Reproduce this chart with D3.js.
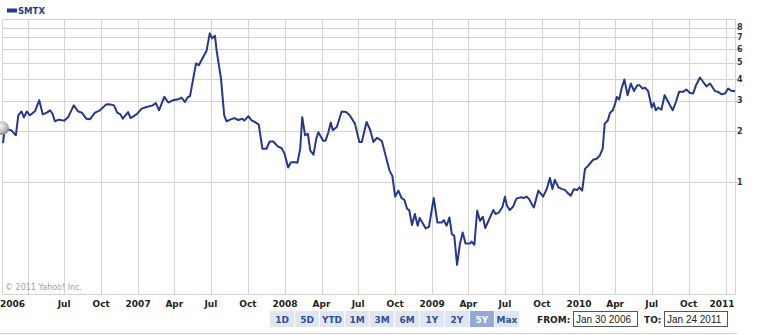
<!DOCTYPE html>
<html>
  <head>
    <title>SMTX</title>
    <script src="https://cdn.jsdelivr.net/npm/d3@7"></script>
    <style>
      body { margin: 0; background: #ffffff; }
      text { font-family: "DejaVu Sans", Verdana, sans-serif; }
    </style>
  </head>
  <body>
    <svg width="779" height="335" id="mainsvg"></svg>
    <script>
        // weekly-ish closes, one list per year
        const prices2006 = [
            ["2006-01-30",1.69],["2006-02-03",2.01],["2006-02-08",2.05],["2006-02-20",2.01],["2006-03-03",1.88],
            ["2006-03-09",2.46],["2006-03-17",2.59],["2006-03-23",2.39],["2006-03-30",2.59],["2006-04-07",2.46],
            ["2006-04-20",2.61],["2006-04-30",3.01],["2006-05-09",2.49],["2006-05-19",2.55],["2006-05-27",2.63],
            ["2006-06-02",2.52],["2006-06-08",2.27],["2006-06-18",2.32],["2006-07-01",2.29],["2006-07-11",2.40],
            ["2006-07-25",2.81],["2006-08-05",2.59],["2006-08-14",2.55],["2006-08-25",2.35],["2006-09-03",2.33],
            ["2006-09-16",2.55],["2006-09-28",2.63],["2006-10-13",2.84],["2006-10-23",2.85],["2006-11-02",2.81],
            ["2006-11-10",2.55],["2006-11-18",2.49],["2006-11-24",2.35],["2006-12-07",2.57],["2006-12-13",2.37],
            ["2006-12-28",2.49]
        ];
        const prices2007 = [
            ["2007-01-10",2.69],["2007-01-22",2.75],["2007-02-06",2.81],["2007-02-14",2.90],["2007-02-22",2.63],
            ["2007-03-07",3.15],["2007-03-17",2.92],["2007-03-28",3.01],["2007-04-11",3.05],["2007-04-19",3.12],
            ["2007-04-27",2.94],["2007-05-05",3.15],["2007-05-10",3.18],["2007-05-18",4.03],["2007-05-25",4.94],
            ["2007-06-01",4.82],["2007-06-12",5.40],["2007-06-20",5.83],["2007-06-28",7.40],["2007-07-04",6.92],
            ["2007-07-11",7.16],["2007-07-15",5.91],["2007-07-26",4.03],["2007-08-03",2.46],["2007-08-09",2.27],
            ["2007-08-18",2.32],["2007-08-28",2.37],["2007-09-07",2.31],["2007-09-17",2.35],["2007-09-22",2.29],
            ["2007-10-02",2.43],["2007-10-10",2.30],["2007-10-18",2.25],["2007-10-28",2.17],["2007-11-06",1.57],
            ["2007-11-16",1.57],["2007-11-24",1.73],["2007-12-03",1.73],["2007-12-14",1.62],["2007-12-24",1.58],
            ["2007-12-31",1.47]
        ];
        const prices2008 = [
            ["2008-01-09",1.22],["2008-01-16",1.31],["2008-01-26",1.31],["2008-02-01",1.30],["2008-02-08",1.57],
            ["2008-02-13",2.40],["2008-02-20",1.88],["2008-02-27",1.92],["2008-03-04",1.53],["2008-03-12",1.45],
            ["2008-03-19",1.80],["2008-03-24",1.96],["2008-04-05",1.75],["2008-04-11",1.75],["2008-04-18",1.96],
            ["2008-04-24",2.23],["2008-04-29",2.01],["2008-05-09",2.10],["2008-05-21",2.59],["2008-06-01",2.57],
            ["2008-06-10",2.46],["2008-06-23",2.20],["2008-07-04",1.72],["2008-07-10",1.72],["2008-07-22",2.25],
            ["2008-07-31",2.02],["2008-08-08",1.72],["2008-08-17",1.82],["2008-08-29",1.74],["2008-09-06",1.47],
            ["2008-09-17",1.17],["2008-09-24",1.09],["2008-10-01",0.825],["2008-10-09",0.894],["2008-10-17",0.810],
            ["2008-10-24",0.789],["2008-10-31",0.699],["2008-11-05",0.689],["2008-11-12",0.563],["2008-11-19",0.653],
            ["2008-11-26",0.558],["2008-12-01",0.619],["2008-12-09",0.575],["2008-12-16",0.538],["2008-12-24",0.550]
        ];
        const prices2009 = [
            ["2009-01-05",0.810],["2009-01-14",0.583],["2009-01-25",0.583],["2009-01-30",0.602],["2009-02-06",0.558],
            ["2009-02-13",0.624],["2009-02-19",0.499],["2009-02-25",0.487],["2009-03-04",0.330],["2009-03-11",0.436],
            ["2009-03-18",0.510],["2009-03-25",0.439],["2009-04-05",0.439],["2009-04-09",0.451],["2009-04-16",0.432],
            ["2009-04-23",0.683],["2009-04-30",0.596],["2009-05-07",0.630],["2009-05-13",0.541],["2009-05-23",0.610],
            ["2009-06-02",0.689],["2009-06-08",0.653],["2009-06-16",0.667],["2009-06-25",0.720],["2009-07-01",0.825],
            ["2009-07-06",0.730],["2009-07-13",0.689],["2009-07-21",0.720],["2009-07-30",0.806],["2009-08-09",0.817],
            ["2009-08-17",0.810],["2009-08-24",0.825],["2009-08-30",0.799],["2009-09-08",0.730],["2009-09-11",0.714],
            ["2009-09-22",0.894],["2009-10-04",0.825],["2009-10-13",0.915],["2009-10-21",1.061],["2009-10-27",0.915],
            ["2009-11-02",1.033],["2009-11-11",0.935],["2009-11-19",0.915],["2009-11-27",0.903],["2009-12-05",0.862],
            ["2009-12-12",0.836],["2009-12-19",0.910],["2009-12-28",0.903]
        ];
        const prices2010 = [
            ["2010-01-02",0.935],["2010-01-09",0.894],["2010-01-16",1.198],["2010-01-22",1.236],["2010-01-29",1.292],
            ["2010-02-05",1.353],["2010-02-14",1.371],["2010-02-22",1.434],["2010-03-01",1.57],["2010-03-06",2.20],
            ["2010-03-14",2.30],["2010-03-19",2.54],["2010-03-26",2.63],["2010-04-01",2.88],["2010-04-05",3.15],
            ["2010-04-11",3.04],["2010-04-17",3.52],["2010-04-24",3.98],["2010-05-02",3.22],["2010-05-10",3.77],
            ["2010-05-18",3.41],["2010-05-26",3.68],["2010-06-01",3.68],["2010-06-08",3.52],["2010-06-14",3.57],
            ["2010-06-22",3.41],["2010-07-01",2.73],["2010-07-06",2.90],["2010-07-11",2.63],["2010-07-17",2.73],
            ["2010-07-25",2.65],["2010-08-02",3.22],["2010-08-11",2.94],["2010-08-22",2.63],["2010-08-30",2.94],
            ["2010-09-07",3.37],["2010-09-17",3.37],["2010-09-25",3.48],["2010-10-04",3.32],["2010-10-12",3.30],
            ["2010-10-19",3.68],["2010-10-29",4.09],["2010-11-06",3.85],["2010-11-14",3.63],["2010-11-23",3.77],
            ["2010-12-05",3.41],["2010-12-13",3.37],["2010-12-22",3.26],["2010-12-30",3.30]
        ];
        const prices2011 = [
            ["2011-01-07",3.52],["2011-01-16",3.41],["2011-01-24",3.41]
        ];

        // quarterly ticks on the time axis ('' = gridline only)
        const xTickDates = ["2006-04-01","2006-07-01","2006-10-01","2007-01-01","2007-04-01","2007-07-01","2007-10-01",
            "2008-01-01","2008-04-01","2008-07-01","2008-10-01","2009-01-01","2009-04-01","2009-07-01","2009-10-01",
            "2010-01-01","2010-04-01","2010-07-01","2010-10-01","2011-01-01"];
        const xTickLabels = ["","Jul","Oct","2007","Apr","Jul","Oct","2008","Apr","Jul","Oct","2009","Apr","Jul","Oct",
            "2010","Apr","Jul","Oct","2011"];
        const yTicks = [1, 2, 3, 4, 5, 6, 7, 8];
        const rangeButtons = ["1D","5D","YTD","1M","3M","6M","1Y","2Y","5Y","Max"];
        const activeButton = "5Y";
        const fromText = "Jan 30 2006";
        const toText = "Jan 24 2011";

        const svg = d3.select('#mainsvg');
        const parse = d3.timeParse("%Y-%m-%d");
        const lineColor = "#27378a";
        const plot = {left: 3, right: 735, top: 19, bottom: 294};

        const data = [].concat(prices2006, prices2007, prices2008, prices2009, prices2010, prices2011)
            .map(d => ({date: parse(d[0]), close: d[1]}));

        const xScale = d3.scaleTime()
            .domain([parse("2006-01-30"), parse("2011-01-24")])
            .range([plot.left, plot.right]);
        const yScale = d3.scaleLog()
            .domain([0.223, 8.97])
            .range([plot.bottom, plot.top]);

        // gridlines
        const grid = svg.append('g').attr('stroke', '#d3d3d3').attr('shape-rendering', 'crispEdges');
        grid.selectAll('.vg').data(xTickDates).enter().append('line')
            .attr('x1', d => Math.round(xScale(parse(d))) + 0.5)
            .attr('x2', d => Math.round(xScale(parse(d))) + 0.5)
            .attr('y1', plot.top).attr('y2', plot.bottom);
        grid.selectAll('.hg').data(yTicks).enter().append('line')
            .attr('x1', plot.left).attr('x2', plot.right + 3)
            .attr('y1', d => Math.round(yScale(d)) + 0.5)
            .attr('y2', d => Math.round(yScale(d)) + 0.5);
        grid.append('rect')
            .attr('x', plot.left - 0.5).attr('y', plot.top + 0.5)
            .attr('width', plot.right - plot.left + 1).attr('height', plot.bottom - plot.top)
            .attr('fill', 'none');

        // right axis labels
        svg.append('g').selectAll('text').data(yTicks).enter().append('text')
            .attr('x', plot.right + 2)
            .attr('y', d => yScale(d))
            .attr('dy', '0.36em')
            .attr('font-size', 8)
            .attr('font-weight', 'bold')
            .attr('fill', '#333')
            .text(d => d);

        // bottom axis labels
        const xl = svg.append('g');
        xl.append('text').attr('x', 0).attr('y', 306.5)
            .attr('font-size', 9).attr('font-weight', 'bold').attr('fill', '#222')
            .text("2006");
        xl.selectAll('.xl').data(xTickDates.map((d, i) => ({d: d, t: xTickLabels[i]})).filter(o => o.t !== ''))
            .enter().append('text')
            .attr('x', o => Math.min(xScale(parse(o.d)), 722))
            .attr('y', 306.5)
            .attr('text-anchor', 'middle')
            .attr('font-size', 9).attr('font-weight', 'bold').attr('fill', '#222')
            .text(o => o.t);

        // price line
        const line = d3.line()
            .x(d => xScale(d.date))
            .y(d => yScale(d.close));
        svg.append('path')
            .datum(data)
            .attr('d', line)
            .attr('fill', 'none')
            .attr('stroke', lineColor)
            .attr('stroke-width', 2)
            .attr('stroke-linejoin', 'round');

        // slider knob on the left
        const defs = svg.append('defs');
        const knob = defs.append('radialGradient').attr('id', 'knob')
            .attr('cx', 0.4).attr('cy', 0.35).attr('r', 0.7);
        knob.append('stop').attr('offset', '0%').attr('stop-color', '#f4f4f4');
        knob.append('stop').attr('offset', '60%').attr('stop-color', '#bdbdbd');
        knob.append('stop').attr('offset', '100%').attr('stop-color', '#7d7d7d');
        svg.append('circle').attr('cx', 2).attr('cy', 128).attr('r', 7).attr('fill', 'url(#knob)');

        // legend
        svg.append('rect').attr('x', 7).attr('y', 8.5).attr('width', 10).attr('height', 4).attr('fill', lineColor);
        svg.append('text').attr('x', 18).attr('y', 13.5)
            .attr('font-size', 8.5).attr('font-weight', 'bold').attr('fill', lineColor)
            .text("SMTX");

        // copyright
        svg.append('text').attr('x', 5).attr('y', 290)
            .attr('font-size', 8).attr('fill', '#a0a0a0')
            .text("\u00a9 2011 Yahoo! Inc.");

        // range buttons
        const btn = svg.append('g').selectAll('g').data(rangeButtons).enter().append('g')
            .attr('transform', (d, i) => `translate(${270 + i * 25}, 311)`);
        btn.append('rect')
            .attr('width', 24).attr('height', 16)
            .attr('fill', d => d === activeButton ? '#93a9d8' : '#dfe6f1');
        btn.append('text')
            .attr('x', 12).attr('y', 11.5)
            .attr('text-anchor', 'middle')
            .attr('font-size', 9).attr('font-weight', 'bold')
            .attr('fill', d => d === activeButton ? '#ffffff' : '#2f4f93')
            .text(d => d);

        // date range inputs
        const dr = svg.append('g');
        dr.append('text').attr('x', 537).attr('y', 322.5)
            .attr('font-size', 9).attr('font-weight', 'bold').attr('fill', '#222').text("FROM:");
        dr.append('rect').attr('x', 573.5).attr('y', 311.5).attr('width', 64).attr('height', 15)
            .attr('fill', '#fff').attr('stroke', '#555');
        dr.append('text').attr('x', 576).attr('y', 322.5)
            .style('font-family', '"Liberation Sans", Arial, sans-serif')
            .attr('font-size', 10).attr('fill', '#222').text(fromText);
        dr.append('text').attr('x', 644).attr('y', 322.5)
            .attr('font-size', 9).attr('font-weight', 'bold').attr('fill', '#222').text("TO:");
        dr.append('rect').attr('x', 664.5).attr('y', 311.5).attr('width', 63).attr('height', 15)
            .attr('fill', '#fff').attr('stroke', '#555');
        dr.append('text').attr('x', 667).attr('y', 322.5)
            .style('font-family', '"Liberation Sans", Arial, sans-serif')
            .attr('font-size', 10).attr('fill', '#222').text(toText);

        svg.append('line').attr('x1', 0).attr('x2', 737).attr('y1', 333.5).attr('y2', 333.5)
            .attr('stroke', '#cfcfcf');
    </script>
  </body>
</html>
